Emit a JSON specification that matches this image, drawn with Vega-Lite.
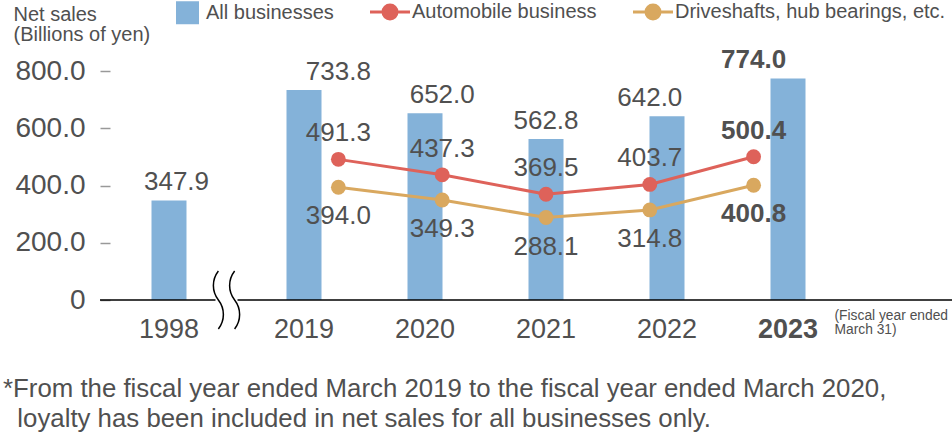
{
  "$schema": "https://vega.github.io/schema/vega-lite/v6.json",
  "width": 852,
  "height": 229,
  "autosize": {"type": "none"},
  "padding": {"left": 100, "top": 71, "right": 0, "bottom": 138},
  "background": "white",
  "config": {
    "view": {"stroke": null},
    "font": "Liberation Sans, Arial, sans-serif",
    "axis": {"grid": false}
  },
  "title": {
    "text": [
      "*From the fiscal year ended March 2019 to the fiscal year ended March 2020,",
      "\u200b\u00a0\u00a0loyalty has been included in net sales for all businesses only."
    ],
    "orient": "bottom",
    "anchor": "start",
    "frame": "bounds",
    "offset": 35,
    "dx": -10,
    "baseline": "top",
    "font": "Liberation Sans, Arial, sans-serif",
    "fontSize": 25.8,
    "fontWeight": "normal",
    "color": "#505050",
    "lineHeight": 30
  },
  "datasets": {
    "sales": [
      {"year": "1998", "sales": 347.9},
      {"year": "2019", "sales": 733.8},
      {"year": "2020", "sales": 652.0},
      {"year": "2021", "sales": 562.8},
      {"year": "2022", "sales": 642.0},
      {"year": "2023", "sales": 774.0}
    ],
    "segments": [
      {"year": "2019", "series": "Automobile business", "value": 491.3},
      {"year": "2020", "series": "Automobile business", "value": 437.3},
      {"year": "2021", "series": "Automobile business", "value": 369.5},
      {"year": "2022", "series": "Automobile business", "value": 403.7},
      {"year": "2023", "series": "Automobile business", "value": 500.4},
      {"year": "2019", "series": "Driveshafts, hub bearings, etc.", "value": 394.0},
      {"year": "2020", "series": "Driveshafts, hub bearings, etc.", "value": 349.3},
      {"year": "2021", "series": "Driveshafts, hub bearings, etc.", "value": 288.1},
      {"year": "2022", "series": "Driveshafts, hub bearings, etc.", "value": 314.8},
      {"year": "2023", "series": "Driveshafts, hub bearings, etc.", "value": 400.8}
    ]
  },
  "layer": [
    {
      "data": {"name": "sales"},
      "transform": [{"filter": "datum.year !== '1998'"}],
      "mark": {"type": "bar"},
      "encoding": {
        "x": {
          "field": "year",
          "type": "nominal",
          "scale": {"domain": ["2019", "2020", "2021", "2022", "2023"], "range": [186.5, 705.5], "paddingInner": 0.71074, "paddingOuter": 0},
          "axis": {
            "orient": "bottom",
            "title": ["(Fiscal year ended", "March 31)"],
            "titleX": 734,
            "titleY": 8,
            "titleAlign": "left",
            "titleBaseline": "top",
            "titleAngle": 0,
            "titleFontSize": 13.8,
            "titleFontWeight": "normal",
            "titleLineHeight": 14.5,
            "titleColor": "#505050",
            "labelFontSize": 27,
            "labelPadding": 16,
            "labelAngle": 0,
            "labelColor": "#505050",
            "labelFontWeight": {"condition": {"test": "datum.value === '2023'", "value": "bold"}, "value": "normal"},
            "ticks": false,
            "domain": false
          }
        },
        "y": {
          "field": "sales",
          "type": "quantitative",
          "scale": {"domain": [0, 800], "nice": false},
          "axis": {
            "title": ["Net sales", "(Billions of yen)"],
            "titleAngle": 0,
            "titleAlign": "left",
            "titleBaseline": "top",
            "titleX": -97,
            "titleY": -67,
            "titleFontSize": 20,
            "titleFontWeight": "normal",
            "titleColor": "#505050",
            "titleLineHeight": 20,
            "values": [0, 200, 400, 600, 800],
            "labelExpr": "datum.value === 0 ? '0' : format(datum.value, '.1f')",
            "labelFontSize": 28,
            "labelColor": "#505050",
            "labelPadding": 15,
            "tickSize": 10,
            "tickColor": "#999999",
            "tickWidth": 1.5,
            "offset": -10,
            "domain": false,
            "grid": false
          }
        },
        "color": {
          "datum": "All businesses",
          "type": "nominal",
          "scale": {
            "domain": ["All businesses", "Automobile business", "Driveshafts, hub bearings, etc."],
            "range": ["#84b2d9", "#de625a", "#d9a85f"]
          },
          "legend": {
            "orient": "none",
            "legendX": 74,
            "legendY": -69,
            "direction": "horizontal",
            "title": null,
            "padding": 0,
            "symbolSize": 1600,
            "symbolStrokeWidth": 3,
            "labelFontSize": 20,
            "labelColor": "#505050",
            "labelOffset": 12,
            "labelLimit": 400,
            "columnPadding": 30,
            "encode": {
              "symbols": {
                "update": {
                  "shape": {"signal": "datum.value === 'All businesses' ? 'M-0.4,-0.575H0.75V0.575H-0.4Z' : 'M-1,0H-0.35A0.35,0.35 0 1,1 0.35,0A0.35,0.35 0 1,1 -0.35,0M0.35,0H1'"},
                  "fill": {"scale": "color", "field": "value"},
                  "stroke": {"scale": "color", "field": "value"},
                  "strokeWidth": {"signal": "datum.value === 'All businesses' ? 0 : 3"},
                  "opacity": {"value": 1}
                }
              }
            }
          }
        }
      }
    },
    {
      "data": {"name": "sales"},
      "transform": [{"filter": "datum.year === '1998'"}],
      "mark": {"type": "bar"},
      "encoding": {
        "x": {
          "field": "year",
          "type": "nominal",
          "scale": {"domain": ["1998", "break"], "range": [51.5, 151.5], "paddingInner": 0.46154, "paddingOuter": 0},
          "axis": {
            "orient": "bottom",
            "title": null,
            "labelExpr": "datum.value === 'break' ? '' : datum.label",
            "labelFontSize": 27,
            "labelPadding": 16,
            "labelAngle": 0,
            "labelColor": "#505050",
            "ticks": false,
            "domain": false
          }
        },
        "y": {"field": "sales", "type": "quantitative", "scale": {"domain": [0, 800], "nice": false}},
        "color": {
          "datum": "All businesses",
          "type": "nominal",
          "scale": {
            "domain": ["All businesses", "Automobile business", "Driveshafts, hub bearings, etc."],
            "range": ["#84b2d9", "#de625a", "#d9a85f"]
          },
          "legend": null
        }
      }
    },
    {
      "data": {"values": [{"baseline": 0}]},
      "mark": {"type": "rule", "color": "black", "strokeWidth": 1.5},
      "encoding": {
        "y": {"field": "baseline", "type": "quantitative", "scale": {"domain": [0, 800], "nice": false}}
      }
    },
    {
      "data": {"values": [{"baseline": 0}]},
      "mark": {"type": "point", "shape": "M-0.38,-0.09H0.38V0.09H-0.38Z", "filled": true, "color": "white", "size": 3364, "opacity": 1, "strokeWidth": 0},
      "encoding": {
        "x": {
          "datum": "break",
          "type": "nominal",
          "scale": {"domain": ["1998", "break"], "range": [51.5, 151.5], "paddingInner": 0.46154, "paddingOuter": 0},
          "axis": null
        },
        "y": {"field": "baseline", "type": "quantitative", "scale": {"domain": [0, 800], "nice": false}}
      }
    },
    {
      "data": {"values": [{"baseline": 0}]},
      "mark": {
        "type": "point",
        "shape": "M-0.28,-1C-0.51,-0.7 -0.51,-0.3 -0.28,0C-0.05,0.3 -0.05,0.7 -0.28,1M0.28,-1C0.05,-0.7 0.05,-0.3 0.28,0C0.51,0.3 0.51,0.7 0.28,1",
        "filled": false,
        "stroke": "black",
        "strokeWidth": 1.5,
        "size": 3364,
        "opacity": 1
      },
      "encoding": {
        "x": {
          "datum": "break",
          "type": "nominal",
          "scale": {"domain": ["1998", "break"], "range": [51.5, 151.5], "paddingInner": 0.46154, "paddingOuter": 0},
          "axis": null
        },
        "y": {"field": "baseline", "type": "quantitative", "scale": {"domain": [0, 800], "nice": false}}
      }
    },
    {
      "data": {"name": "sales"},
      "transform": [{"filter": "datum.year === '1998'"}],
      "mark": {"type": "text", "dy": -18, "fontSize": 26, "color": "#505050"},
      "encoding": {
        "x": {
          "field": "year",
          "type": "nominal",
          "scale": {"domain": ["1998", "break"], "range": [51.5, 151.5], "paddingInner": 0.46154, "paddingOuter": 0},
          "axis": null
        },
        "y": {"field": "sales", "type": "quantitative", "scale": {"domain": [0, 800], "nice": false}},
        "text": {"field": "sales", "type": "quantitative", "format": ".1f"}
      }
    },
    {
      "data": {"name": "sales"},
      "transform": [{"filter": "datum.year !== '1998'"}],
      "mark": {
        "type": "text",
        "dy": -18,
        "fontSize": 26,
        "color": "#505050",
        "fontWeight": {"expr": "datum.year === '2023' ? 'bold' : 'normal'"}
      },
      "encoding": {
        "x": {
          "field": "year",
          "type": "nominal",
          "scale": {"domain": ["2019", "2020", "2021", "2022", "2023"], "range": [186.5, 705.5], "paddingInner": 0.71074, "paddingOuter": 0},
          "axis": null
        },
        "y": {"field": "sales", "type": "quantitative", "scale": {"domain": [0, 800], "nice": false}},
        "text": {"field": "sales", "type": "quantitative", "format": ".1f"}
      }
    },
    {
      "data": {"name": "segments"},
      "mark": {"type": "line", "strokeWidth": 3},
      "encoding": {
        "x": {
          "field": "year",
          "type": "nominal",
          "scale": {"domain": ["2019", "2020", "2021", "2022", "2023"], "range": [186.5, 705.5], "paddingInner": 0.71074, "paddingOuter": 0},
          "axis": null
        },
        "y": {"field": "value", "type": "quantitative", "scale": {"domain": [0, 800], "nice": false}},
        "color": {
          "field": "series",
          "type": "nominal",
          "scale": {
            "domain": ["All businesses", "Automobile business", "Driveshafts, hub bearings, etc."],
            "range": ["#84b2d9", "#de625a", "#d9a85f"]
          },
          "legend": null
        }
      }
    },
    {
      "data": {"name": "segments"},
      "mark": {"type": "point", "filled": true, "size": 220, "opacity": 1},
      "encoding": {
        "x": {
          "field": "year",
          "type": "nominal",
          "scale": {"domain": ["2019", "2020", "2021", "2022", "2023"], "range": [186.5, 705.5], "paddingInner": 0.71074, "paddingOuter": 0},
          "axis": null
        },
        "y": {"field": "value", "type": "quantitative", "scale": {"domain": [0, 800], "nice": false}},
        "color": {
          "field": "series",
          "type": "nominal",
          "scale": {
            "domain": ["All businesses", "Automobile business", "Driveshafts, hub bearings, etc."],
            "range": ["#84b2d9", "#de625a", "#d9a85f"]
          },
          "legend": null
        }
      }
    },
    {
      "data": {"name": "segments"},
      "mark": {
        "type": "text",
        "fontSize": 26,
        "color": "#505050",
        "dy": {"expr": "datum.series === 'Automobile business' ? -26 : 29"},
        "fontWeight": {"expr": "datum.year === '2023' ? 'bold' : 'normal'"}
      },
      "encoding": {
        "x": {
          "field": "year",
          "type": "nominal",
          "scale": {"domain": ["2019", "2020", "2021", "2022", "2023"], "range": [186.5, 705.5], "paddingInner": 0.71074, "paddingOuter": 0},
          "axis": null
        },
        "y": {"field": "value", "type": "quantitative", "scale": {"domain": [0, 800], "nice": false}},
        "text": {"field": "value", "type": "quantitative", "format": ".1f"}
      }
    }
  ],
  "resolve": {"scale": {"x": "independent"}, "axis": {"x": "independent"}}
}
